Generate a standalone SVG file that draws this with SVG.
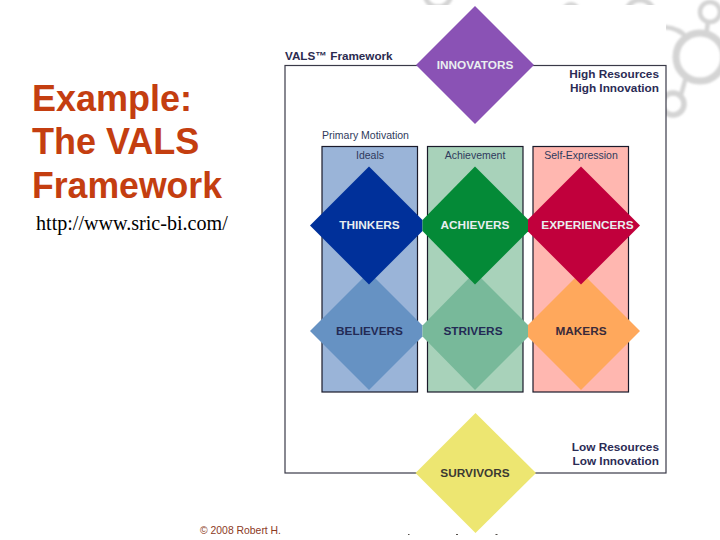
<svg xmlns="http://www.w3.org/2000/svg" width="720" height="540" viewBox="0 0 720 540">
<style>
text{font-family:"Liberation Sans",Arial,sans-serif}
.title{font-size:36px;font-weight:bold;fill:#c43e10}
.url{font-family:"Liberation Serif","Times New Roman",serif;font-size:20.100px;fill:#000}
.lbl{font-size:11.800px;font-weight:bold;text-anchor:middle}
.lt{fill:#e9eef0}
.dk{fill:#232a55}
.side{font-size:11.800px;font-weight:bold;fill:#2b2b55;text-anchor:end}
.head{font-size:10.500px;fill:#2f3a5c;text-anchor:middle}
.col{stroke:#1a1a2a;stroke-width:1.200}
.gear{fill:none;stroke:#d4d4d4}
</style>
<defs><filter id="soft" x="-10%" y="-10%" width="120%" height="120%"><feGaussianBlur stdDeviation="1"/></filter></defs>
<rect width="720" height="540" fill="#fff"/>
<g id="background-gears" class="gear" filter="url(#soft)">
<circle cx="700" cy="57" r="24" stroke-width="7"/>
<circle cx="710" cy="12" r="10" stroke-width="4.500"/>
<circle cx="673" cy="104" r="11" stroke-width="5.500"/>
<path d="M708 22L706 36" stroke-width="4.500"/>
<path d="M681 95L686 77" stroke-width="4.500"/>
<path d="M664 27Q680 28 688 39" stroke-width="4.500"/>
<circle cx="438" cy="-6" r="13" stroke-width="5"/>
<circle cx="571" cy="12" r="8" stroke-width="4"/>
<circle cx="640" cy="14" r="14" stroke-width="5"/>
</g>
<rect id="picture-ground" x="281" y="5" width="385" height="530" fill="#fff"/>
<g id="title">
<text class="title" x="32" y="111">Example:</text>
<text class="title" x="32" y="154">The VALS</text>
<text class="title" x="32" y="198" textLength="190" lengthAdjust="spacingAndGlyphs">Framework</text>
<text class="url" x="36" y="230">http://www.sric-bi.com/</text>
</g>
<g id="frame">
<rect x="285" y="65.500" width="381" height="407.500" fill="none" stroke="#3a3a48" stroke-width="1.200"/>
<text x="285" y="60" font-size="11.700" font-weight="bold" fill="#2b2b50">VALS™ Framework</text>
<text x="322" y="139" font-size="10.500" fill="#2f3a5c">Primary Motivation</text>
<text class="side" x="659" y="78">High Resources</text>
<text class="side" x="659" y="92">High Innovation</text>
<text class="side" x="659" y="451">Low Resources</text>
<text class="side" x="659" y="465">Low Innovation</text>
</g>
<g id="columns">
<g id="col-ideals"><rect class="col" x="322" y="146.500" width="95.500" height="245.500" fill="#9ab4d8"/><text class="head" x="370" y="159">Ideals</text></g>
<g id="col-achievement"><rect class="col" x="427.500" y="146.500" width="95.500" height="245.500" fill="#a8d2ba"/><text class="head" x="475" y="159">Achievement</text></g>
<g id="col-self-expression"><rect class="col" x="533" y="146.500" width="95.500" height="245.500" fill="#ffb7b0"/><text class="head" x="581" y="159">Self-Expression</text></g>
</g>
<g id="believers"><polygon points="369,272 422.500,325.500 422.500,336.500 369,390 310,331" fill="#6692c3"/><text class="lbl dk" x="369.500" y="334.500">BELIEVERS</text></g>
<g id="strivers"><polygon points="475,272 528,325 528,337 475,390 422.500,336.500 422.500,325.500" fill="#78b99a"/><text class="lbl dk" x="473" y="334.500">STRIVERS</text></g>
<g id="makers"><polygon points="581,272 640,331 581,390 528,337 528,325" fill="#ffa85c"/><text class="lbl" fill="#3a2a3a" x="581" y="334.500">MAKERS</text></g>
<g id="thinkers"><polygon points="369,166.500 422.500,220 422.500,231 369,284.500 310,225.500" fill="#00309a"/><text class="lbl lt" x="369.500" y="229">THINKERS</text></g>
<g id="achievers"><polygon points="475,166.500 528,219.500 528,231.500 475,284.500 422.500,231 422.500,220" fill="#048a37"/><text class="lbl lt" x="475" y="229">ACHIEVERS</text></g>
<g id="experiencers"><polygon points="581,166.500 640,225.500 581,284.500 528,231.500 528,219.500" fill="#c1003c"/><text class="lbl lt" x="587.500" y="229">EXPERIENCERS</text></g>
<g id="innovators"><polygon points="475,6 534,65 475,124 416,65" fill="#8a52b5"/><text class="lbl lt" x="475" y="69">INNOVATORS</text></g>
<g id="survivors"><polygon points="475.500,413 536,473 475.500,533 415.500,473" fill="#ede671"/><text class="lbl" fill="#3c3a32" x="475" y="477">SURVIVORS</text></g>
<g id="footer"><text x="200" y="534" font-size="10.400" fill="#8c3a1e">© 2008 Robert H.</text>
<path d="M408 534.500h1.500M456 534.500h2M495.500 534.500h2" stroke="#55504a" stroke-width="1.200"/></g>
</svg>
